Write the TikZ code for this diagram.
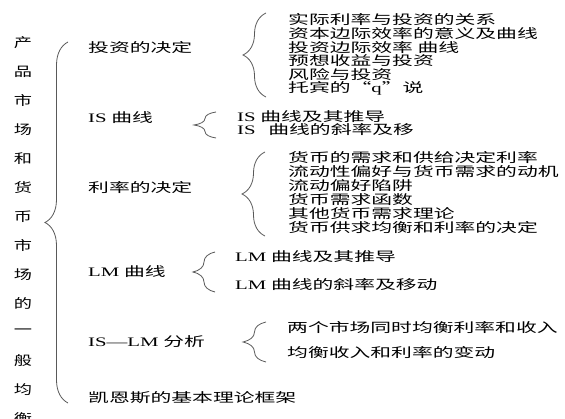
\documentclass[tikz,border=0pt]{standalone}
\usepackage{fontspec}
\newfontfamily\cjk[FakeStretch=1.6]{Noto Sans CJK SC}
\newfontfamily\cjkv[FakeStretch=1.4]{Noto Sans CJK SC}
\newfontfamily\lat[FakeStretch=1.6]{Liberation Serif}
\usetikzlibrary{decorations.pathreplacing}
\tikzset{
  txt/.style={anchor=west, inner sep=0pt, font=\cjk\fontsize{13}{14}\selectfont},
  vchar/.style={inner sep=0pt, font=\cjkv\fontsize{13}{14}\selectfont},
  brace/.style={decorate, decoration={brace, amplitude=#1}, draw=black!65, line width=0.8pt},
  brace/.default=22
}
\begin{document}
\begin{tikzpicture}[x=1pt,y=1pt]
  \useasboundingbox (0,0) rectangle (565,-419);
  % title, one character per row
  \foreach \zi [count=\i from 0] in {产,品,市,场,和,货,币,市,场,的,一,般,均,衡}
    \node[vchar] (v\i) at (23,{-43-28.9*\i}) {\zi};
  % chapters
  \draw
    (88,-48) node[txt] (t1){投资的决定}
    (88,-118) node[txt] (t2){{\lat IS} 曲线}
    (88,-188) node[txt] (t3){利率的决定}
    (88,-272) node[txt] (t4){{\lat LM} 曲线}
    (88,-342) node[txt] (t5){{\lat IS—LM} 分析}
    (88,-398) node[txt] (t6){凯恩斯的基本理论框架};
  % sections
  \foreach \s [count=\i from 0] in {实际利率与投资的关系,资本边际效率的意义及曲线,投资边际效率 曲线,预想收益与投资,风险与投资,托宾的“{\lat q}”说}
    \node[txt] (a\i) at (288,{-20-13.6*\i}) {\s};
  \draw
    (237,-117) node[txt] (b0){{\lat IS} 曲线及其推导}
    (237,-130) node[txt] (b1){{\lat IS}\hspace{8pt} 曲线的斜率及移};
  \foreach \s [count=\i from 0] in {货币的需求和供给决定利率,流动性偏好与货币需求的动机,流动偏好陷阱,货币需求函数,其他货币需求理论,货币供求均衡和利率的决定}
    \node[txt] (c\i) at (288,{-158-14*\i}) {\s};
  \draw
    (235,-257) node[txt] (d0){{\lat LM} 曲线及其推导}
    (235,-285) node[txt] (d1){{\lat LM} 曲线的斜率及移动}
    (287,-328) node[txt] (e0){两个市场同时均衡利率和收入}
    (287,-353) node[txt] (e1){均衡收入和利率的变动};
  % braces
  \coordinate (k0s) at (68,-403);  \coordinate (k0e) at (68,-42);
  \coordinate (k1s) at (266,-97);  \coordinate (k1e) at (266,-13);
  \coordinate (k2s) at (216,-138); \coordinate (k2e) at (216,-112);
  \coordinate (k3s) at (265,-236); \coordinate (k3e) at (265,-152);
  \coordinate (k4s) at (215,-292); \coordinate (k4e) at (215,-252);
  \coordinate (k5s) at (266,-362); \coordinate (k5e) at (266,-322);
  \draw[brace=23] (k0s) -- (k0e);
  \draw[brace=23] (k1s) -- (k1e);
  \draw[brace] (k2s) -- (k2e);
  \draw[brace=23] (k3s) -- (k3e);
  \draw[brace] (k4s) -- (k4e);
  \draw[brace=23] (k5s) -- (k5e);
\end{tikzpicture}
\end{document}
